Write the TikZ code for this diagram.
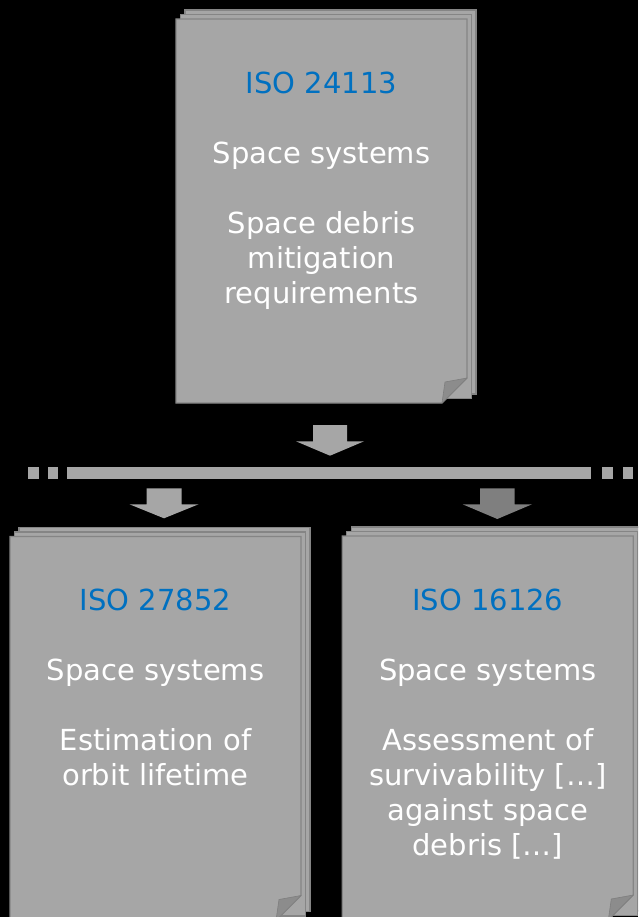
\documentclass[tikz,border=0pt]{standalone}
\usepackage{fontspec}
\setmainfont{DejaVu Sans}
\definecolor{pagefill}{HTML}{A6A6A6}
\definecolor{pageedge}{HTML}{858585}
\definecolor{foldfill}{HTML}{8C8C8C}
\definecolor{isoblue}{HTML}{0070C0}
\definecolor{darkarrow}{HTML}{7F7F7F}
\tikzset{
  sheet/.style={fill=pagefill, draw=pageedge, line width=1.3pt, line join=miter},
  fold/.style={fill=foldfill, draw=foldfill!90!black, line width=0.6pt, line join=round},
  % the base anchor of a multi-line node sits on its last line
  doctext/.style={font=\fontsize{29}{35}\selectfont, text=white, align=center,
    inner sep=0pt, anchor=base},
  % a stack of three sheets, the front one with a curled corner
  docstack/.pic={
    \draw[sheet] (9,-9) rectangle (300,375);
    \draw[sheet] (4.5,-4.5) rectangle (295.5,379.5);
    \draw[sheet] (0,0) -- (291,0) -- (291,359) -- (266,384) -- (0,384) -- cycle;
    \draw[fold] (266,384) .. controls (267,373) .. (269,363) -- (291,359) -- cycle;
  }
}
\begin{document}
\begin{tikzpicture}[x=1pt,y=-1pt]
\fill[black] (0,0) rectangle (638,917);
\useasboundingbox (0,0) rectangle (638,917);
\clip (0,0) rectangle (638,917);

% documents
\pic (topdoc) at (176,19) {docstack};
\pic (leftdoc) at (10,536.5) {docstack};
\pic (rightdoc) at (342.3,536) {docstack};

\node[doctext] (toptext) at (321.5,303.3)
  {\textcolor{isoblue}{ISO 24113}\\[35pt]Space systems\\[35pt]Space debris\\mitigation\\requirements};
\node[doctext] (lefttext) at (155.5,785.7)
  {\textcolor{isoblue}{ISO 27852}\\[35pt]Space systems\\[35pt]Estimation of\\orbit lifetime};
\node[doctext] (righttext) at (487.8,855.7)
  {\textcolor{isoblue}{ISO 16126}\\[35pt]Space systems\\[35pt]Assessment of\\survivability […]\\against space\\debris […]};

% distribution bar with dotted ends
\fill[pagefill] (67,467) rectangle (591,479);
\foreach \xa/\xb in {28/38.5, 48/58, 602/612.5, 622.5/633}
  \fill[pagefill] (\xa,467) rectangle (\xb,479);

% block arrows
\coordinate (a1) at (330,425);
\coordinate (a2) at (164,488.3);
\coordinate (a3) at (497.3,488.3);
\fill[pagefill] (a1) ++(-17,0) -- ++(34,0) -- ++(0,16.3) -- ++(17,0)
  -- ++(-34,14.4) -- ++(-34,-14.4) -- ++(17,0) -- cycle;
\fill[pagefill] (a2) ++(-17.5,0) -- ++(35,0) -- ++(0,16) -- ++(17,0)
  -- ++(-34.5,14) -- ++(-34.5,-14) -- ++(17,0) -- cycle;
\fill[darkarrow] (a3) ++(-17.3,0) -- ++(34.6,0) -- ++(0,16) -- ++(17.4,0)
  -- ++(-34.7,14.7) -- ++(-34.7,-14.7) -- ++(17.4,0) -- cycle;
\end{tikzpicture}
\end{document}
